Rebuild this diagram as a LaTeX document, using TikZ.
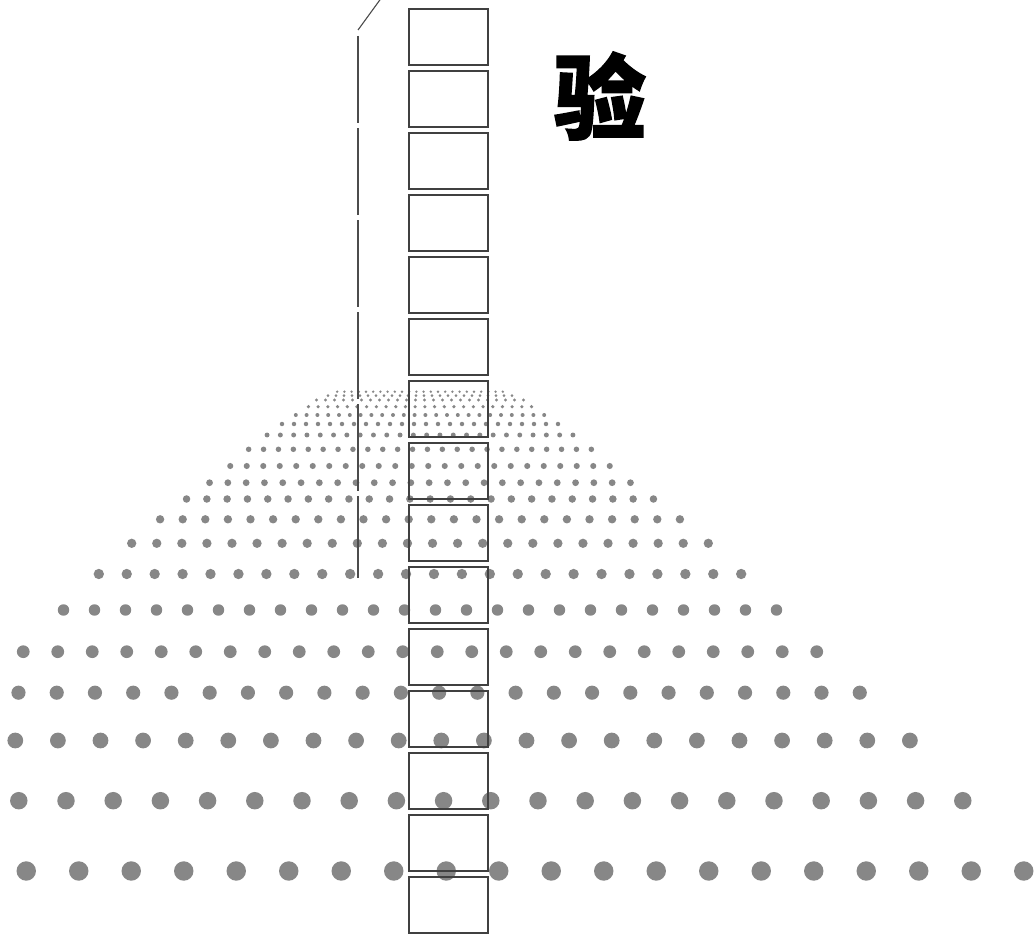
\documentclass[tikz,border=0pt]{standalone}
\usepackage{fontspec}
\newfontfamily\cjk{Noto Sans CJK SC}[BoldFeatures={FakeBold=2}]
\begin{document}
\begin{tikzpicture}[x=1pt,y=-1pt,
  dotc/.style={fill=black!47},
  cellbox/.style={draw=black!75,line width=1.2pt},
  guideline/.style={draw=black!70,line width=1.1pt,dash pattern=on 87pt off 5pt},
  bigchar/.style={font=\cjk\bfseries\fontsize{92}{92}\selectfont,text=black,inner sep=0pt}]
\useasboundingbox (0,0) rectangle (1034,934);
\fill[white] (0,0) rectangle (1034,934);
% perspective dot field: 24 columns centred on x=420
\foreach \yy/\ss in {391.7/7.2,395.7/8.0,400/9.0,406.7/9.7,415/10.8,424/12.0,435/13.3,449.3/14.9,466/16.5,482.7/18.3,499/20.3,519.3/22.6,543.3/25.07,574/27.93,610/31.0,651.7/34.5,692.7/38.24,740.5/42.6,800.7/47.2,871/52.5}{
  \foreach \j in {0,...,23}{
    \fill[dotc] ({420+\ss*(\j-11.5)},\yy) circle ({0.185*\ss});
  }
}
% column of boxes
\foreach \i in {0,...,14}{
  \draw[cellbox] (409,{9+62*\i}) rectangle (488,{65+62*\i});
}
% dashed guide line
\coordinate (gtop) at (382,-3);
\coordinate (gknee) at (358,30);
\coordinate (gend) at (358,578);
\draw[draw=black!70,line width=1.1pt] (gtop) -- (gknee);
\draw[guideline] (358,36) -- (gend);
% character
\node[bigchar] (ch) at (600,96) {验};
\end{tikzpicture}
\end{document}
